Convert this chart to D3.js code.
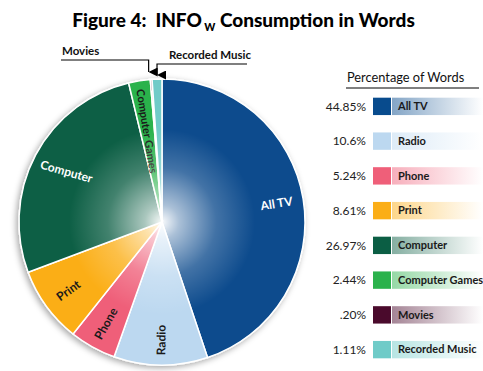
<!DOCTYPE html>
<html>
<head>
<meta charset="utf-8">
<script src="https://cdn.jsdelivr.net/npm/d3@7"></script>
<style>
  html, body { margin: 0; padding: 0; background: #fff; }
  svg { display: block; }
</style>
</head>
<body>
<svg id="chart" width="483" height="371"></svg>
<script>
// ---- data ----
const categories = ["All TV", "Radio", "Phone", "Print", "Computer", "Computer Games", "Movies", "Recorded Music"];
const values = [44.85, 10.6, 5.24, 8.61, 26.97, 2.44, 0.20, 1.11];
const valueLabels = ["44.85%", "10.6%", "5.24%", "8.61%", "26.97%", "2.44%", ".20%", "1.11%"];
const colors = ["#084b8d", "#bcd8f0", "#ef5f79", "#fbae17", "#0b5e44", "#2bb24c", "#4a0a2c", "#6fcbc8"];
const sliceLabels = ["All TV", "Radio", "Phone", "Print", "Computer", "Computer Games", "", ""];

// ---- layout ----
const FONT = "Lato, 'Open Sans', sans-serif";
const svg = d3.select("#chart");
const W = 483, H = 371;
const cx = 162, cy = 222, R = 143;

const defs = svg.append("defs");
const glow = defs.append("radialGradient").attr("id", "glow")
  .attr("cx", cx).attr("cy", cy).attr("r", R).attr("gradientUnits", "userSpaceOnUse");
glow.append("stop").attr("offset", "0%").attr("stop-color", "#fff").attr("stop-opacity", 0.97);
glow.append("stop").attr("offset", "12%").attr("stop-color", "#fff").attr("stop-opacity", 0.65);
glow.append("stop").attr("offset", "38%").attr("stop-color", "#fff").attr("stop-opacity", 0.22);
glow.append("stop").attr("offset", "65%").attr("stop-color", "#fff").attr("stop-opacity", 0);

const shadow = defs.append("filter").attr("id", "shadow")
  .attr("x", "-20%").attr("y", "-20%").attr("width", "140%").attr("height", "140%");
shadow.append("feDropShadow").attr("dx", -2).attr("dy", 2).attr("stdDeviation", 3)
  .attr("flood-color", "#000").attr("flood-opacity", 0.35);

const marker = defs.append("marker").attr("id", "arrow")
  .attr("viewBox", "0 0 10 10").attr("refX", 5).attr("refY", 10)
  .attr("markerWidth", 9).attr("markerHeight", 9).attr("orient", "auto-start-reverse")
  .attr("markerUnits", "userSpaceOnUse");
marker.append("path").attr("d", "M0,0 L10,0 L5,10 Z").attr("fill", "#000");

// title
const title = svg.append("text")
  .attr("x", W / 2 + 2).attr("y", 27)
  .attr("text-anchor", "middle")
  .attr("xml:space", "preserve")
  .attr("font-family", FONT)
  .attr("font-weight", 900)
  .attr("font-size", 19)
  .attr("fill", "#000");
title.append("tspan").text("Figure 4:\u00a0\u00a0INFO\u2009");
title.append("tspan").attr("font-size", 10.5).attr("dy", 4).text("W");
title.append("tspan").attr("dy", -4).text(" Consumption in Words");

// pie
const pie = d3.pie().value(d => d).sort(null);
const arcs = pie(values);
const arcGen = d3.arc().innerRadius(0).outerRadius(R);

const g = svg.append("g").attr("transform", `translate(${cx},${cy})`);
const pieGroup = g.append("g").attr("filter", "url(#shadow)");
pieGroup.selectAll("path.slice").data(arcs).join("path")
  .attr("class", "slice")
  .attr("d", arcGen)
  .attr("fill", (d, i) => colors[i])
  .attr("stroke", "#fff").attr("stroke-width", 1.5);

// glow overlay
svg.append("circle").attr("cx", cx).attr("cy", cy).attr("r", R)
  .attr("fill", "url(#glow)").attr("pointer-events", "none");

// slice labels
const labelR = { "All TV": 116, "Radio": 118, "Phone": 116, "Print": 116, "Computer": 108, "Computer Games": 92 };
const labelRot = { "Computer": -12 };
const whiteLabels = new Set(["All TV", "Computer"]);
g.selectAll("text.slabel").data(arcs.filter((d, i) => sliceLabels[i] !== "")).join("text")
  .attr("class", "slabel")
  .attr("transform", d => {
    const name = sliceLabels[d.index];
    const a = (d.startAngle + d.endAngle) / 2;
    const deg = a * 180 / Math.PI;
    const r = labelR[name];
    const x = r * Math.sin(a), y = -r * Math.cos(a);
    const rot = (deg > 180 ? deg - 270 : deg - 90) + (labelRot[name] || 0);
    return `translate(${x},${y}) rotate(${rot})`;
  })
  .attr("text-anchor", "middle")
  .attr("dominant-baseline", "central")
  .attr("font-family", FONT)
  .attr("font-weight", 700)
  .attr("font-size", d => sliceLabels[d.index] === "Computer Games" ? 11 : 12)
  .attr("fill", d => whiteLabels.has(sliceLabels[d.index]) ? "#fff" : "#1a1a1a")
  .text(d => sliceLabels[d.index]);

// callouts for tiny slices
const angleOf = i => (arcs[i].startAngle + arcs[i].endAngle) / 2;
const movX = cx + R * Math.sin(angleOf(6)) - 2.5;
const recX = cx + R * Math.sin(angleOf(7));
const ann = svg.append("g").attr("font-family", FONT)
  .attr("font-weight", 700).attr("font-size", 11.5).attr("fill", "#111");
ann.append("text").attr("x", 62).attr("y", 55).text("Movies");
ann.append("path").attr("d", `M61,60 H${movX} V72`).attr("fill", "none")
  .attr("stroke", "#000").attr("stroke-width", 1.2).attr("marker-end", "url(#arrow)");
ann.append("text").attr("x", 169).attr("y", 59).text("Recorded Music");
ann.append("path").attr("d", `M247,64 H${recX} V75`).attr("fill", "none")
  .attr("stroke", "#000").attr("stroke-width", 1.2).attr("marker-end", "url(#arrow)");

// legend
const legend = svg.append("g");
legend.append("text").attr("x", 347).attr("y", 82)
  .attr("font-family", FONT).attr("font-size", 12.8).attr("fill", "#111")
  .text("Percentage of Words");
legend.append("line").attr("x1", 346).attr("x2", 479).attr("y1", 88).attr("y2", 88)
  .attr("stroke", "#000").attr("stroke-width", 1);

const ly = d3.scaleBand().domain(categories).range([89, 367]).paddingInner(0.5).paddingOuter(0.25);

categories.forEach((c, i) => {
  const grad = defs.append("linearGradient").attr("id", "lg" + i)
    .attr("x1", "0%").attr("x2", "100%").attr("y1", "0%").attr("y2", "0%");
  grad.append("stop").attr("offset", "0%").attr("stop-color", colors[i]).attr("stop-opacity", 0.5);
  grad.append("stop").attr("offset", "100%").attr("stop-color", colors[i]).attr("stop-opacity", 0);
});

const rows = legend.selectAll("g.row").data(categories).join("g").attr("class", "row")
  .attr("transform", d => `translate(0,${ly(d)})`);
const bh = ly.bandwidth();
rows.append("rect").attr("x", 392).attr("y", 0).attr("width", 91).attr("height", bh)
  .attr("fill", (d, i) => `url(#lg${i})`);
rows.append("rect").attr("x", 373).attr("y", 0).attr("width", 18).attr("height", bh)
  .attr("fill", (d, i) => colors[i]);
rows.append("text").attr("x", 398).attr("y", bh / 2).attr("dy", "0.35em")
  .attr("font-family", FONT).attr("font-weight", 700).attr("font-size", 11)
  .attr("fill", "#1a1a1a").text(d => d);
rows.append("text").attr("x", 366).attr("y", bh / 2).attr("dy", "0.35em")
  .attr("text-anchor", "end")
  .attr("font-family", FONT).attr("font-size", 12)
  .attr("fill", "#222").text((d, i) => valueLabels[i]);
</script>
</body>
</html>
